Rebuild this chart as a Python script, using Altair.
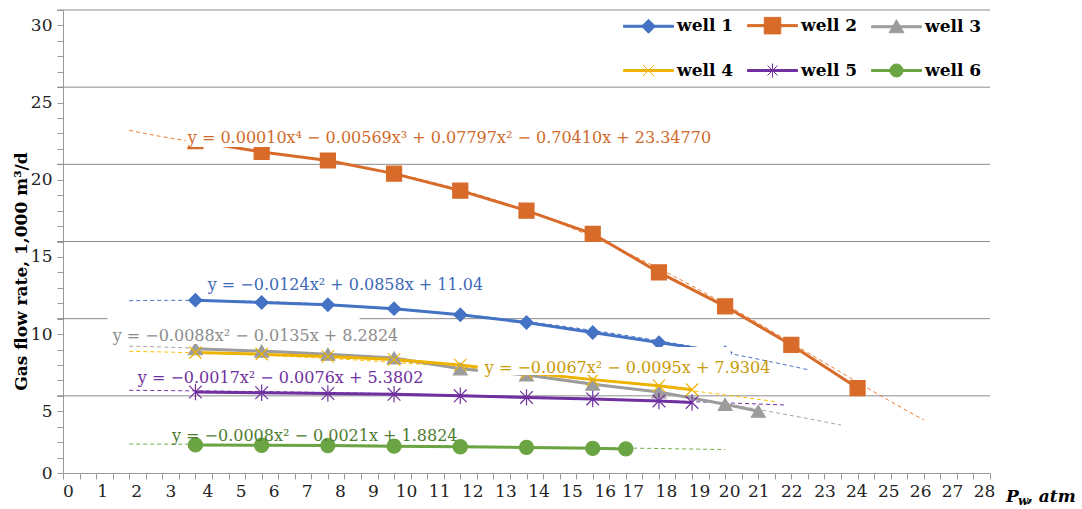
import altair as alt
import numpy as np
import pandas as pd

wells = ["well 1", "well 2", "well 3", "well 4", "well 5", "well 6"]

# Bottom-hole pressure (atm) and measured gas flow rate (1,000 m3/d) per well
p_well1 = [4, 6, 8, 10, 12, 14, 16, 18, 20]
q_well1 = [11.2, 11.05, 10.9, 10.65, 10.25, 9.75, 9.1, 8.45, 7.8]
p_well2 = [4, 6, 8, 10, 12, 14, 16, 18, 20, 22, 24]
q_well2 = [21.5, 20.8, 20.25, 19.4, 18.3, 17.0, 15.5, 13.0, 10.8, 8.3, 5.5]
p_well3 = [4, 6, 8, 10, 12, 14, 16, 18, 20, 21]
q_well3 = [8.05, 7.9, 7.7, 7.45, 6.75, 6.35, 5.75, 5.25, 4.45, 4.0]
p_well4 = [4, 6, 8, 10, 12, 14, 16, 18, 19]
q_well4 = [7.8, 7.7, 7.55, 7.35, 7.0, 6.5, 6.05, 5.65, 5.4]
p_well5 = [4, 6, 8, 10, 12, 14, 16, 18, 19]
q_well5 = [5.25, 5.2, 5.15, 5.1, 5.0, 4.9, 4.8, 4.67, 4.57]
p_well6 = [4, 6, 8, 10, 12, 14, 16, 17]
q_well6 = [1.82, 1.80, 1.78, 1.74, 1.70, 1.66, 1.60, 1.56]

# Polynomial trendline coefficients (highest power first), as printed
coef_well1 = ["-0.0124", "0.0858", "11.04"]
coef_well2 = ["0.00010", "-0.00569", "0.07797", "-0.70410", "23.34770"]
coef_well3 = ["-0.0088", "-0.0135", "8.2824"]
coef_well4 = ["-0.0067", "-0.0095", "7.9304"]
coef_well5 = ["-0.0017", "-0.0076", "5.3802"]
coef_well6 = ["-0.0008", "-0.0021", "1.8824"]
trend_from = [2, 2, 2, 2, 2, 2]
trend_to = [22.5, 26, 23.5, 21.5, 21.8, 20]

# Equation label anchors (data units, left edge / baseline)
eq_x = [4.37, 3.77, 1.50, 12.74, 2.26, 3.29]
eq_y = [11.86, 21.37, 8.57, 6.46, 5.81, 2.09]

# White backgrounds behind the well 2, well 3 and well 4 equations
box_x0 = [3.71, 1.35, 12.53]
box_x1 = [20.29, 8.96, 20.17]
box_y0 = [21.13, 8.36, 6.35]
box_y1 = [22.68, 10.17, 8.17]

line_colors = ["#4472C4", "#D86B2A", "#9C9C9C", "#EDB300", "#7030A0", "#6BA443"]
trend_colors = ["#4472C4", "#ED7D31", "#A5A5A5", "#FFC000", "#7030A0", "#70AD47"]
text_colors = ["#4169B7", "#D06A2A", "#8C8C8C", "#C99A06", "#7030A0", "#4E7C31"]

FONT = "DejaVu Serif"

X_PATH = "M-1,-1L1,1M-1,1L1,-1"
STAR_PATH = "M-1,-1L1,1M-1,1L1,-1M0,-1.3V1.3"
shapes = ["diamond", "square", "triangle-up", X_PATH, STAR_PATH, "circle"]
sizes = [175, 225, 190, 150, 160, 200]

# Legend symbols: a line segment with the marker on top
LEG_LINE = "M-1,-0.04H1V0.04H-1Z"
leg_markers = [
    "M0,-0.28L0.28,0L0,0.28L-0.28,0Z",
    "M-0.33,-0.33H0.33V0.33H-0.33Z",
    "M0,-0.28L0.3,0.24H-0.3Z",
    "M-0.22,-0.22L0.22,0.22M-0.22,0.22L0.22,-0.22",
    "M-0.2,-0.2L0.2,0.2M-0.2,0.2L0.2,-0.2M0,-0.28V0.28",
    "M0.26,0A0.26,0.26,0,1,1,-0.26,0A0.26,0.26,0,1,1,0.26,0Z",
]


def by_well(values):
    expr = "'" + values[-1] + "'"
    for w, v in zip(reversed(wells[:-1]), reversed(values[:-1])):
        expr = f"datum.value === '{w}' ? '{v}' : {expr}"
    return expr


def equation(coefs):
    n = len(coefs) - 1
    sup = {4: "⁴", 3: "³", 2: "²"}
    parts = []
    for i, c in enumerate(coefs):
        power = n - i
        neg = c.startswith("-")
        mag = c.lstrip("-")
        term = mag + ("x" + sup.get(power, "") if power >= 1 else "")
        if i == 0:
            parts.append(("−" if neg else "") + term)
        else:
            parts.append(("− " if neg else "+ ") + term)
    return "y = " + " ".join(parts)


p_all = [p_well1, p_well2, p_well3, p_well4, p_well5, p_well6]
q_all = [q_well1, q_well2, q_well3, q_well4, q_well5, q_well6]
coef_all = [coef_well1, coef_well2, coef_well3, coef_well4, coef_well5, coef_well6]

rows = []
for w, ps, qs, lc, sz, sh in zip(wells, p_all, q_all, line_colors, sizes, shapes):
    for p, q in zip(ps, qs):
        rows.append({"well": w, "p": p, "q": q, "lcolor": lc, "msize": sz, "mshape": sh})
data = pd.DataFrame(rows)

trows = []
for w, cs, a, b, tc in zip(wells, coef_all, trend_from, trend_to, trend_colors):
    coefs = [float(c) for c in cs]
    for p in np.linspace(a, b, 90):
        trows.append({"well": w, "p": p, "q": float(np.polyval(coefs, p)), "tcolor": tc})
trend = pd.DataFrame(trows)

labels = pd.DataFrame({
    "p": eq_x, "q": eq_y,
    "text": [equation(c) for c in coef_all],
    "tcol": text_colors,
})
boxes = pd.DataFrame({"x0": box_x0, "x1": box_x1, "y0": box_y0, "y1": box_y1})
grid_df = pd.DataFrame({"q": [5, 10, 15, 20, 25, 30]})

x_scale = alt.Scale(domain=[0, 28], nice=False, zero=False)
y_scale = alt.Scale(domain=[0, 30], nice=False)
color_scale = alt.Scale(domain=wells, range=line_colors)

AXIS_GRAY = "#9A9A9A"

x_axis = alt.Axis(
    values=[i * 0.5 for i in range(57)],
    labelExpr="datum.value % 1 == 0 ? format(datum.value, 'd') : ''",
    labelOffset={"expr": "datum.value <= 3 ? 5 + datum.value : datum.value <= 16 ? 12 : "
                         "datum.value <= 19 ? 7 : datum.value <= 20 ? 4 : datum.value <= 23 ? 0 : "
                         "(23 - datum.value) * 1.2"},
    title=None, grid=False, tickSize=6, tickColor=AXIS_GRAY, domainColor=AXIS_GRAY,
    labelFont=FONT, labelFontSize=17, labelColor="#222222", labelPadding=4,
    labelFlush=False, labelOverlap=False,
)
y_axis = alt.Axis(
    values=list(range(31)),
    labelExpr="datum.value == 0 ? '0' : (indexof([4, 9, 14, 19, 24, 29], datum.value) >= 0 ? "
              "format(datum.value + 1, 'd') : '')",
    title="Gas flow rate, 1,000 m³/d", titleX=-42, titleY=261, titleAngle=270,
    titleAlign="center", titleBaseline="middle", titleFont=FONT, titleFontSize=17,
    titleFontWeight="bold", titleColor="#000000",
    grid=False, tickSize=6, tickColor=AXIS_GRAY, domainColor=AXIS_GRAY,
    labelFont=FONT, labelFontSize=17, labelColor="#222222", labelPadding=5,
    labelOverlap=False,
)


def X(field):
    return alt.X(field, type="quantitative", scale=x_scale, axis=x_axis)


def Y(field):
    return alt.Y(field, type="quantitative", scale=y_scale, axis=y_axis)


legend = alt.Legend(
    title=None, orient="none", legendX=560, legendY=-10, columns=3, direction="horizontal",
    symbolSize=2500, symbolStrokeWidth=1, labelFont=FONT, labelFontSize=17,
    labelFontWeight="bold", labelColor="#000000", labelOffset=3, columnPadding=11,
    rowPadding=9, padding=0, symbolOpacity=1,
    symbolType={"expr": by_well([LEG_LINE + m for m in leg_markers])},
    symbolFillColor={"expr": by_well(line_colors)},
    symbolStrokeColor={"expr": by_well(line_colors)},
)

grid = alt.Chart(grid_df).mark_rule(color="#8C8C8C", strokeWidth=1).encode(
    y=Y("q"),
    x=alt.value(-6), x2=alt.value(927),
)

trend_lines = alt.Chart(trend).mark_line(strokeWidth=1, strokeDash=[4, 3]).encode(
    x=X("p"), y=Y("q"),
    detail="well:N",
    stroke=alt.Stroke("tcolor:N", scale=None),
)

lines = alt.Chart(data).mark_line().encode(
    x=X("p"), y=Y("q"),
    color=alt.Color("well:N", scale=color_scale, legend=legend),
    strokeWidth=alt.value(3),
)

points = alt.Chart(data).mark_point(filled=True, opacity=1, strokeWidth=1.2).encode(
    x=X("p"), y=Y("q"),
    shape=alt.Shape("mshape:N", scale=None),
    size=alt.Size("msize:Q", scale=None),
    fill=alt.Fill("lcolor:N", scale=None),
    stroke=alt.Stroke("lcolor:N", scale=None),
)

label_boxes = alt.Chart(boxes).mark_rect(color="white").encode(
    x=X("x0"), x2="x1:Q",
    y=Y("y0"), y2="y1:Q",
)

eq_text = alt.Chart(labels).mark_text(
    align="left", baseline="alphabetic", font=FONT, fontSize=16
).encode(
    x=X("p"), y=Y("q"),
    text="text:N",
    fill=alt.Fill("tcol:N", scale=None),
)

one = pd.DataFrame({"k": [0]})
x_title_p = alt.Chart(one).mark_text(
    text="P", align="left", baseline="alphabetic", font=FONT, fontSize=17,
    fontWeight="bold", fontStyle="italic", color="#000000",
).encode(x=alt.value(943), y=alt.value(492))
x_title_w = alt.Chart(one).mark_text(
    text="w", align="left", baseline="alphabetic", font=FONT, fontSize=12,
    fontWeight="bold", fontStyle="italic", color="#000000",
).encode(x=alt.value(955), y=alt.value(495))
x_title_rest = alt.Chart(one).mark_text(
    text=", atm", align="left", baseline="alphabetic", font=FONT, fontSize=17,
    fontWeight="bold", fontStyle="italic", color="#000000",
).encode(x=alt.value(964), y=alt.value(492))

chart = alt.layer(
    grid, trend_lines, lines, points, label_boxes, eq_text,
    x_title_p, x_title_w, x_title_rest,
).properties(
    width=927, height=463,
    padding={"left": 63, "top": 10, "right": 92, "bottom": 36},
    autosize=alt.AutoSizeParams(type="none"),
    background="white",
).configure_view(stroke=None)

chart.save("out.html", embed_options={"renderer": "svg", "actions": False})
